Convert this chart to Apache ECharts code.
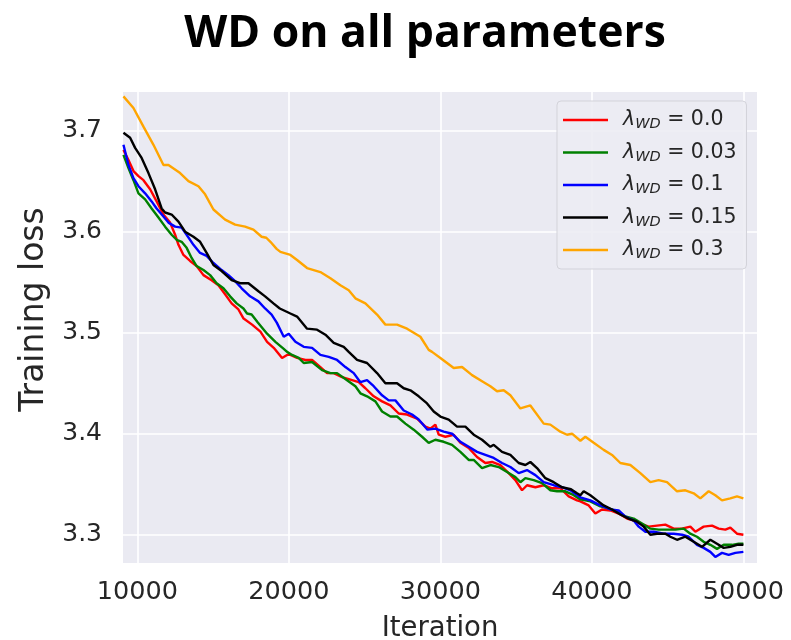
<!DOCTYPE html>
<html>
<head>
<meta charset="utf-8">
<script src="https://cdn.jsdelivr.net/npm/echarts@6/dist/echarts.min.js"></script>
<style>
html,body{margin:0;padding:0;background:#fff;}
#c{width:791px;height:640px;}
</style>
</head>
<body>
<div id="c"></div>
<script>
const titleText = 'WD on all parameters';
const xTicks = [10000, 20000, 30000, 40000, 50000];
const yTicks = [3.3, 3.4, 3.5, 3.6, 3.7];
const seriesNames = ['0.0', '0.03', '0.1', '0.15', '0.3'];
const seriesColors = ['#ff0000', '#008000', '#0000ff', '#000000', '#ffa500'];

const itRed = [9080,9410,9740,10070,10400,10840,11270,11720,12160,12490,12710,13040,13480,13910,14360,14900,15350,15790,16220,16670,17010,17570,18120,18560,19000,19550,19880,20100,20540,21090,21530,22080,22520,22960,23510,24170,24610,25050,25600,26150,26700,27250,27800,28460,29010,29340,29670,29890,30330,30880,31320,31870,32420,32970,33410,33960,34510,34950,35390,35720,36270,36820,37370,37920,38470,39020,39240,39790,40230,40670,41220,41770,42320,42760,43200,43750,44300,44850,45400,45950,46500,46830,47380,47930,48370,48810,49140,49580,50000];
const lossRed = [3.681,3.671,3.660,3.655,3.651,3.642,3.630,3.617,3.609,3.597,3.587,3.577,3.571,3.566,3.557,3.552,3.547,3.538,3.529,3.523,3.514,3.508,3.501,3.491,3.485,3.475,3.478,3.478,3.475,3.473,3.473,3.466,3.460,3.460,3.456,3.453,3.451,3.445,3.437,3.432,3.428,3.420,3.419,3.415,3.407,3.405,3.409,3.399,3.397,3.399,3.391,3.386,3.377,3.371,3.372,3.369,3.361,3.354,3.344,3.349,3.347,3.349,3.346,3.346,3.338,3.334,3.333,3.329,3.321,3.325,3.324,3.321,3.316,3.314,3.311,3.308,3.309,3.310,3.306,3.306,3.308,3.303,3.308,3.309,3.306,3.305,3.307,3.301,3.300];

const itGreen = [9080,9410,9740,10070,10510,10940,11390,11830,12260,12590,12920,13250,13580,13910,14360,14800,15230,15680,16120,16550,17000,17240,17540,17950,18560,19110,19660,19880,20210,20650,20980,21530,22190,22740,23180,23840,24390,24720,25160,25710,26150,26700,27140,27690,28240,28790,29230,29670,30220,30770,31320,31870,32200,32750,33300,33850,34400,34950,35280,35610,36160,36710,37260,37700,38250,38700,39240,39900,40560,41110,41660,42210,42760,43310,43860,44410,44960,45510,46060,46500,46940,47380,47820,48260,48700,49250,49690,50000];
const lossGreen = [3.676,3.663,3.651,3.638,3.632,3.623,3.614,3.605,3.597,3.592,3.590,3.584,3.574,3.566,3.562,3.557,3.549,3.544,3.536,3.529,3.524,3.519,3.518,3.510,3.499,3.491,3.484,3.481,3.478,3.475,3.470,3.471,3.463,3.460,3.460,3.453,3.447,3.440,3.437,3.432,3.422,3.417,3.417,3.410,3.404,3.397,3.391,3.394,3.392,3.389,3.382,3.374,3.374,3.366,3.369,3.367,3.362,3.357,3.352,3.356,3.354,3.351,3.344,3.343,3.343,3.340,3.335,3.333,3.328,3.326,3.323,3.318,3.316,3.311,3.306,3.305,3.305,3.305,3.306,3.301,3.298,3.293,3.290,3.286,3.290,3.290,3.291,3.291];

const itBlue = [9080,9410,9740,10070,10510,10940,11270,11720,12050,12490,12920,13250,13700,14140,14570,15020,15560,16010,16450,16880,17440,17990,18430,18860,19200,19660,19990,20430,20980,21530,22080,22630,23180,23730,24280,24720,25160,25600,26150,26590,27030,27580,28130,28570,29150,29670,30220,30770,31320,31870,32420,32970,33520,34070,34620,35170,35720,36270,36820,37480,38030,38580,39240,39900,40560,41220,41770,42210,42760,43090,43530,44080,44740,45400,45950,46390,46940,47380,47820,48150,48590,49030,49470,50000];
const lossBlue = [3.686,3.666,3.653,3.645,3.638,3.630,3.623,3.615,3.609,3.605,3.604,3.597,3.587,3.579,3.576,3.569,3.562,3.557,3.551,3.544,3.536,3.531,3.524,3.518,3.510,3.496,3.499,3.491,3.486,3.485,3.478,3.476,3.473,3.466,3.460,3.451,3.453,3.447,3.438,3.433,3.433,3.423,3.419,3.414,3.404,3.405,3.402,3.400,3.392,3.387,3.382,3.379,3.376,3.371,3.367,3.361,3.364,3.359,3.352,3.349,3.347,3.344,3.337,3.334,3.329,3.325,3.324,3.318,3.314,3.308,3.303,3.303,3.301,3.301,3.300,3.298,3.290,3.287,3.283,3.278,3.282,3.280,3.282,3.283];

const itBlack = [9080,9520,9850,10280,10730,11170,11600,11830,12260,12710,13150,13700,14140,14570,15020,15560,16220,16780,17330,17990,18430,18980,19400,20100,20540,21200,21860,22410,22960,23620,23950,24500,25160,25820,26370,27140,27580,28020,28570,29120,29560,30000,30550,31100,31650,32200,32750,33300,33520,34070,34620,35170,35610,35940,36380,36930,37480,38030,38620,39020,39240,39460,39900,40340,40780,41330,41880,42430,42980,43420,43860,44300,44850,45180,45620,46170,46720,47270,47820,48260,48700,49140,49580,50000];
const lossBlack = [3.698,3.693,3.683,3.673,3.658,3.642,3.623,3.619,3.617,3.610,3.600,3.595,3.590,3.579,3.567,3.561,3.552,3.549,3.549,3.541,3.536,3.529,3.524,3.519,3.516,3.504,3.503,3.498,3.490,3.486,3.481,3.473,3.470,3.460,3.450,3.450,3.445,3.443,3.437,3.430,3.422,3.417,3.414,3.407,3.407,3.399,3.394,3.387,3.389,3.382,3.379,3.371,3.369,3.372,3.366,3.356,3.352,3.347,3.345,3.341,3.339,3.343,3.339,3.334,3.329,3.325,3.320,3.316,3.313,3.308,3.300,3.301,3.301,3.298,3.295,3.298,3.293,3.288,3.295,3.291,3.287,3.288,3.290,3.290];

const itOrange = [9080,9740,10400,11060,11720,12050,12820,13370,14030,14470,15020,15790,16450,17110,17660,18200,18510,18780,19190,19440,20100,20540,21200,22080,22740,23400,23950,24390,25050,25820,26370,27140,27800,28460,28680,29230,29450,30000,30880,31430,32090,32860,33300,33740,34180,34620,35280,35940,36820,37260,37920,38360,38690,39240,39570,40120,40780,41330,41880,42540,43200,43860,44410,44960,45620,46170,46720,47160,47710,48150,48590,49140,49580,50000];
const lossOrange = [3.734,3.7225,3.704,3.686,3.666,3.666,3.658,3.650,3.645,3.637,3.622,3.612,3.607,3.605,3.602,3.595,3.594,3.590,3.583,3.580,3.577,3.572,3.564,3.560,3.554,3.547,3.542,3.534,3.529,3.518,3.508,3.508,3.504,3.498,3.496,3.483,3.481,3.475,3.465,3.466,3.458,3.451,3.447,3.442,3.443,3.438,3.425,3.428,3.410,3.409,3.402,3.399,3.400,3.393,3.397,3.391,3.384,3.379,3.371,3.369,3.361,3.352,3.354,3.352,3.343,3.344,3.341,3.336,3.343,3.339,3.334,3.336,3.338,3.336];

const seriesIts = [itRed, itGreen, itBlue, itBlack, itOrange];
const seriesLoss = [lossRed, lossGreen, lossBlue, lossBlack, lossOrange];

function pairs(xs, ys) { return xs.map((x, i) => [x, ys[i]]); }

const chart = echarts.init(document.getElementById('c'), null, {renderer: 'canvas'});
const font = "'DejaVu Sans', sans-serif";
const txt = '#262626';

const option = {
  animation: false,
  backgroundColor: '#ffffff',
  title: {
    text: titleText,
    left: 420,
    textAlign: 'center',
    top: 7,
    textStyle: {fontFamily: "'Open Sans', sans-serif", fontWeight: 'bold', fontSize: 44.5, color: '#000'}
  },
  grid: {
    left: 123, right: 34, top: 92, bottom: 77,
    outerBoundsMode: 'none',
    containLabel: false,
    show: true, backgroundColor: '#EAEAF2', borderWidth: 0
  },
  legend: {
    orient: 'vertical',
    left: 557, top: 101,
    padding: [6, 10, 7, 6],
    itemGap: 7.5,
    itemWidth: 45,
    itemHeight: 14,
    icon: 'path://M0,5.7 L45,5.7 L45,8.3 L0,8.3 Z',
    backgroundColor: 'rgba(236,236,243,0.9)',
    borderColor: '#d3d3da',
    borderWidth: 1,
    borderRadius: 4,
    data: seriesNames.map(n => ({name: 'λWD = ' + n})),
    formatter: function (name) {
      const v = name.split('= ')[1];
      return '{l|λ}{s|WD}{t| = ' + v + '}';
    },
    textStyle: {
      fontFamily: font, fontSize: 20.5, color: txt, lineHeight: 24,
      rich: {
        l: {fontFamily: font, fontStyle: 'italic', fontSize: 20.5, color: txt, lineHeight: 24, padding: [0, 0, 0, 10]},
        s: {fontFamily: font, fontStyle: 'italic', fontSize: 14.5, color: txt, lineHeight: 24, verticalAlign: 'bottom', padding: [10, 0, 0, 0]},
        t: {fontFamily: font, fontSize: 20.5, color: txt, lineHeight: 24}
      }
    }
  },
  xAxis: {
    type: 'value',
    min: 9050, max: 50900,
    name: 'Iteration',
    nameLocation: 'middle',
    nameGap: 52,
    nameTextStyle: {fontFamily: font, fontSize: 27.5, color: txt},
    axisLine: {show: false},
    axisTick: {show: false, customValues: xTicks},
    axisLabel: {customValues: xTicks, fontFamily: font, fontSize: 25.5, color: txt, margin: 16,
      formatter: v => String(v)},
    splitLine: {show: true, lineStyle: {color: '#ffffff', width: 1.6}}
  },
  yAxis: {
    type: 'value',
    min: 3.2720, max: 3.7383,
    name: 'Training loss',
    nameLocation: 'middle',
    nameGap: 72,
    nameRotate: 90,
    nameTextStyle: {fontFamily: font, fontSize: 33, color: txt, padding: [0, 0, 0, 36]},
    axisLine: {show: false},
    axisTick: {show: false, customValues: yTicks},
    axisLabel: {customValues: yTicks, fontFamily: font, fontSize: 25, color: txt, margin: 21,
      formatter: v => v.toFixed(1)},
    splitLine: {show: true, lineStyle: {color: '#ffffff', width: 1.6}}
  },
  series: seriesNames.map((n, i) => ({
    name: 'λWD = ' + n,
    type: 'line',
    showSymbol: false,
    symbol: 'none',
    data: pairs(seriesIts[i], seriesLoss[i]),
    lineStyle: {color: seriesColors[i], width: 2.4},
    itemStyle: {color: seriesColors[i]},
    clip: true,
    z: 2 + i
  }))
};
chart.setOption(option);
</script>
</body>
</html>
